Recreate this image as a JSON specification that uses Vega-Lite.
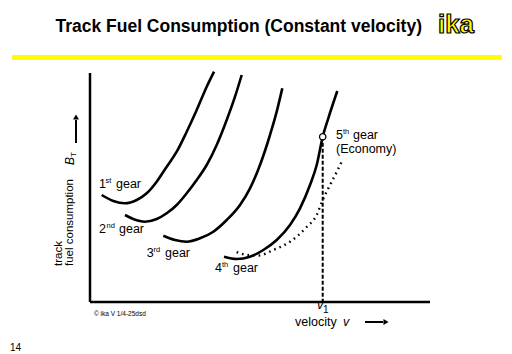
{
  "$schema": "https://vega.github.io/schema/vega-lite/v6.json",
  "width": 512,
  "height": 354,
  "autosize": {"type": "fit", "contains": "padding"},
  "padding": 0,
  "background": "white",
  "view": {"stroke": null},
  "config": {"font": "Liberation Sans"},
  "datasets": {
    "axes": [{"v": 0, "b": 0, "v2": 0, "b2": 229}, {"v": 0, "b": 0, "v2": 340, "b2": 0}],
    "yellow": [{"v": -78, "b": 244.5, "v2": 412, "b2": 244.5}],
    "curves": [
      {"gear": "1", "v": 11.7, "b": 107}, {"gear": "1", "v": 23.3, "b": 101}, {"gear": "1", "v": 35, "b": 98.7}, {"gear": "1", "v": 46.7, "b": 102}, {"gear": "1", "v": 56.7, "b": 108.7}, {"gear": "1", "v": 66.7, "b": 120.3}, {"gear": "1", "v": 76.7, "b": 135.3}, {"gear": "1", "v": 86.7, "b": 150.3}, {"gear": "1", "v": 96.7, "b": 170.3}, {"gear": "1", "v": 106.7, "b": 192}, {"gear": "1", "v": 116.7, "b": 215.3}, {"gear": "1", "v": 124, "b": 230.3},
      {"gear": "2", "v": 35, "b": 87}, {"gear": "2", "v": 43.3, "b": 83}, {"gear": "2", "v": 55, "b": 80.3}, {"gear": "2", "v": 66.7, "b": 83}, {"gear": "2", "v": 76.7, "b": 88.7}, {"gear": "2", "v": 86.7, "b": 97}, {"gear": "2", "v": 96.7, "b": 108.7}, {"gear": "2", "v": 106.7, "b": 122}, {"gear": "2", "v": 116.7, "b": 137}, {"gear": "2", "v": 126.7, "b": 157}, {"gear": "2", "v": 136.7, "b": 182}, {"gear": "2", "v": 145, "b": 205.3}, {"gear": "2", "v": 151.7, "b": 227},
      {"gear": "3", "v": 73.3, "b": 66.3}, {"gear": "3", "v": 85, "b": 62}, {"gear": "3", "v": 96.7, "b": 60.3}, {"gear": "3", "v": 110, "b": 63.7}, {"gear": "3", "v": 123.3, "b": 70.3}, {"gear": "3", "v": 136.7, "b": 82}, {"gear": "3", "v": 150, "b": 97}, {"gear": "3", "v": 160, "b": 113.7}, {"gear": "3", "v": 170, "b": 137}, {"gear": "3", "v": 180, "b": 167}, {"gear": "3", "v": 186.7, "b": 190.3}, {"gear": "3", "v": 192.3, "b": 213.7},
      {"gear": "4", "v": 134, "b": 45.3}, {"gear": "4", "v": 146.7, "b": 43}, {"gear": "4", "v": 160, "b": 45.3}, {"gear": "4", "v": 173.3, "b": 52}, {"gear": "4", "v": 186.7, "b": 62}, {"gear": "4", "v": 200, "b": 77}, {"gear": "4", "v": 210, "b": 93.7}, {"gear": "4", "v": 220, "b": 117}, {"gear": "4", "v": 226.7, "b": 137}, {"gear": "4", "v": 232.7, "b": 165.3}, {"gear": "4", "v": 238.3, "b": 183.7}, {"gear": "4", "v": 247.3, "b": 211}
    ],
    "econ": [
      {"v": 146.7, "b": 50}, {"v": 157, "b": 47}, {"v": 168.3, "b": 46.5}, {"v": 183.3, "b": 52}, {"v": 200, "b": 60.3}, {"v": 216.7, "b": 75}, {"v": 226.7, "b": 87}, {"v": 232.7, "b": 102}, {"v": 240, "b": 117}, {"v": 246.7, "b": 130}, {"v": 251.7, "b": 140.3}
    ],
    "vline": [{"v": 232.7, "b": 165.3, "b2": 0}],
    "marker": [{"v": 232.7, "b": 165.3}],
    "arrows": [{"v": -14, "b": 159, "v2": -14, "b2": 182}, {"v": 275, "b": -20, "v2": 293, "b2": -20}],
    "heads": [{"v": -14, "b": 185, "dir": "up"}, {"v": 296, "b": -20, "dir": "right"}],
    "labels": [
      {"t": "1", "v": 9, "b": 114}, {"t": "gear", "v": 26, "b": 114},
      {"t": "2", "v": 9, "b": 69}, {"t": "gear", "v": 29, "b": 69},
      {"t": "3", "v": 56.7, "b": 45.5}, {"t": "gear", "v": 75, "b": 45.5},
      {"t": "4", "v": 125, "b": 30}, {"t": "gear", "v": 143, "b": 30},
      {"t": "5", "v": 246, "b": 163}, {"t": "gear", "v": 263, "b": 163},
      {"t": "(Economy)", "v": 246, "b": 149},
      {"t": "velocity", "v": 205, "b": -24}
    ],
    "sups": [
      {"t": "st", "v": 15.5, "b": 119}, {"t": "nd", "v": 16.5, "b": 74}, {"t": "rd", "v": 63.5, "b": 50.5}, {"t": "th", "v": 132, "b": 35}, {"t": "th", "v": 253, "b": 168}
    ],
    "italics": [{"t": "v", "v": 227, "b": -6.5}, {"t": "v", "v": 253, "b": -24}],
    "subs": [{"t": "1", "v": 233, "b": -11}],
    "ylab": [{"t": "track", "v": -30.7, "b": 36}, {"t": "fuel consumption", "v": -19.7, "b": 36}],
    "ylabB": [{"t": "B", "v": -20, "b": 137}],
    "ylabT": [{"t": "T", "v": -16, "b": 145}],
    "title": [{"t": "Track Fuel Consumption (Constant velocity)", "v": 148.7, "b": 270.5}],
    "logo": [{"t": "ika", "v": 366, "b": 268.7}],
    "page": [{"t": "14", "v": -80, "b": -49}],
    "copy": [{"t": "© ika V 1/4-25dsd", "v": 4, "b": -13.5}]
  },
  "encoding": {
    "x": {"field": "v", "type": "quantitative", "scale": {"domain": [-90, 422], "nice": false, "zero": false}, "axis": null},
    "y": {"field": "b", "type": "quantitative", "scale": {"domain": [-52, 302], "nice": false, "zero": false}, "axis": null}
  },
  "layer": [
    {"data": {"name": "yellow"}, "mark": {"type": "rule", "color": "#FFFF00", "strokeWidth": 5}, "encoding": {"x2": {"field": "v2"}, "y2": {"field": "b2"}}},
    {"data": {"name": "axes"}, "mark": {"type": "rule", "color": "black", "strokeWidth": 2.5}, "encoding": {"x2": {"field": "v2"}, "y2": {"field": "b2"}}},
    {"data": {"name": "curves"}, "mark": {"type": "line", "color": "black", "strokeWidth": 2.6, "interpolate": "monotone"}, "encoding": {"detail": {"field": "gear"}}},
    {"data": {"name": "econ"}, "mark": {"type": "line", "color": "black", "strokeWidth": 2.4, "strokeDash": [1.6, 4], "interpolate": "monotone"}, "encoding": {}},
    {"data": {"name": "vline"}, "mark": {"type": "rule", "color": "black", "strokeWidth": 2, "strokeDash": [4, 2]}, "encoding": {"y2": {"field": "b2"}}},
    {"data": {"name": "marker"}, "mark": {"type": "point", "shape": "circle", "filled": true, "fill": "white", "stroke": "black", "strokeWidth": 1.3, "size": 40, "opacity": 1}},
    {"data": {"name": "arrows"}, "mark": {"type": "rule", "color": "black", "strokeWidth": 2}, "encoding": {"x2": {"field": "v2"}, "y2": {"field": "b2"}}},
    {"data": {"name": "heads"}, "mark": {"type": "point", "filled": true, "color": "black", "size": 35, "opacity": 1}, "encoding": {"shape": {"field": "dir", "type": "nominal", "scale": {"domain": ["up", "right"], "range": ["triangle-up", "triangle-right"]}, "legend": null}}},
    {"data": {"name": "labels"}, "mark": {"type": "text", "fontSize": 12.5, "align": "left", "baseline": "alphabetic", "color": "black"}, "encoding": {"text": {"field": "t"}}},
    {"data": {"name": "sups"}, "mark": {"type": "text", "fontSize": 7.5, "align": "left", "baseline": "alphabetic", "color": "black"}, "encoding": {"text": {"field": "t"}}},
    {"data": {"name": "italics"}, "mark": {"type": "text", "fontSize": 12.5, "fontStyle": "italic", "align": "left", "baseline": "alphabetic", "color": "black"}, "encoding": {"text": {"field": "t"}}},
    {"data": {"name": "subs"}, "mark": {"type": "text", "fontSize": 10, "align": "left", "baseline": "alphabetic", "color": "black"}, "encoding": {"text": {"field": "t"}}},
    {"data": {"name": "ylab"}, "mark": {"type": "text", "fontSize": 11.5, "angle": 270, "align": "left", "baseline": "middle", "color": "black"}, "encoding": {"text": {"field": "t"}}},
    {"data": {"name": "ylabB"}, "mark": {"type": "text", "fontSize": 12, "fontStyle": "italic", "angle": 270, "align": "left", "baseline": "middle", "color": "black"}, "encoding": {"text": {"field": "t"}}},
    {"data": {"name": "ylabT"}, "mark": {"type": "text", "fontSize": 8, "angle": 270, "align": "left", "baseline": "middle", "color": "black"}, "encoding": {"text": {"field": "t"}}},
    {"data": {"name": "title"}, "mark": {"type": "text", "fontSize": 17.5, "fontWeight": "bold", "align": "center", "baseline": "alphabetic", "color": "black"}, "encoding": {"text": {"field": "t"}}},
    {"data": {"name": "logo"}, "mark": {"type": "text", "fontSize": 26, "fontWeight": "bold", "align": "center", "baseline": "alphabetic", "fill": "#FFFF00", "stroke": "black", "strokeWidth": 1.2}, "encoding": {"text": {"field": "t"}}},
    {"data": {"name": "page"}, "mark": {"type": "text", "fontSize": 10, "align": "left", "baseline": "alphabetic", "color": "black"}, "encoding": {"text": {"field": "t"}}},
    {"data": {"name": "copy"}, "mark": {"type": "text", "fontSize": 6.5, "align": "left", "baseline": "alphabetic", "color": "black"}, "encoding": {"text": {"field": "t"}}}
  ]
}
